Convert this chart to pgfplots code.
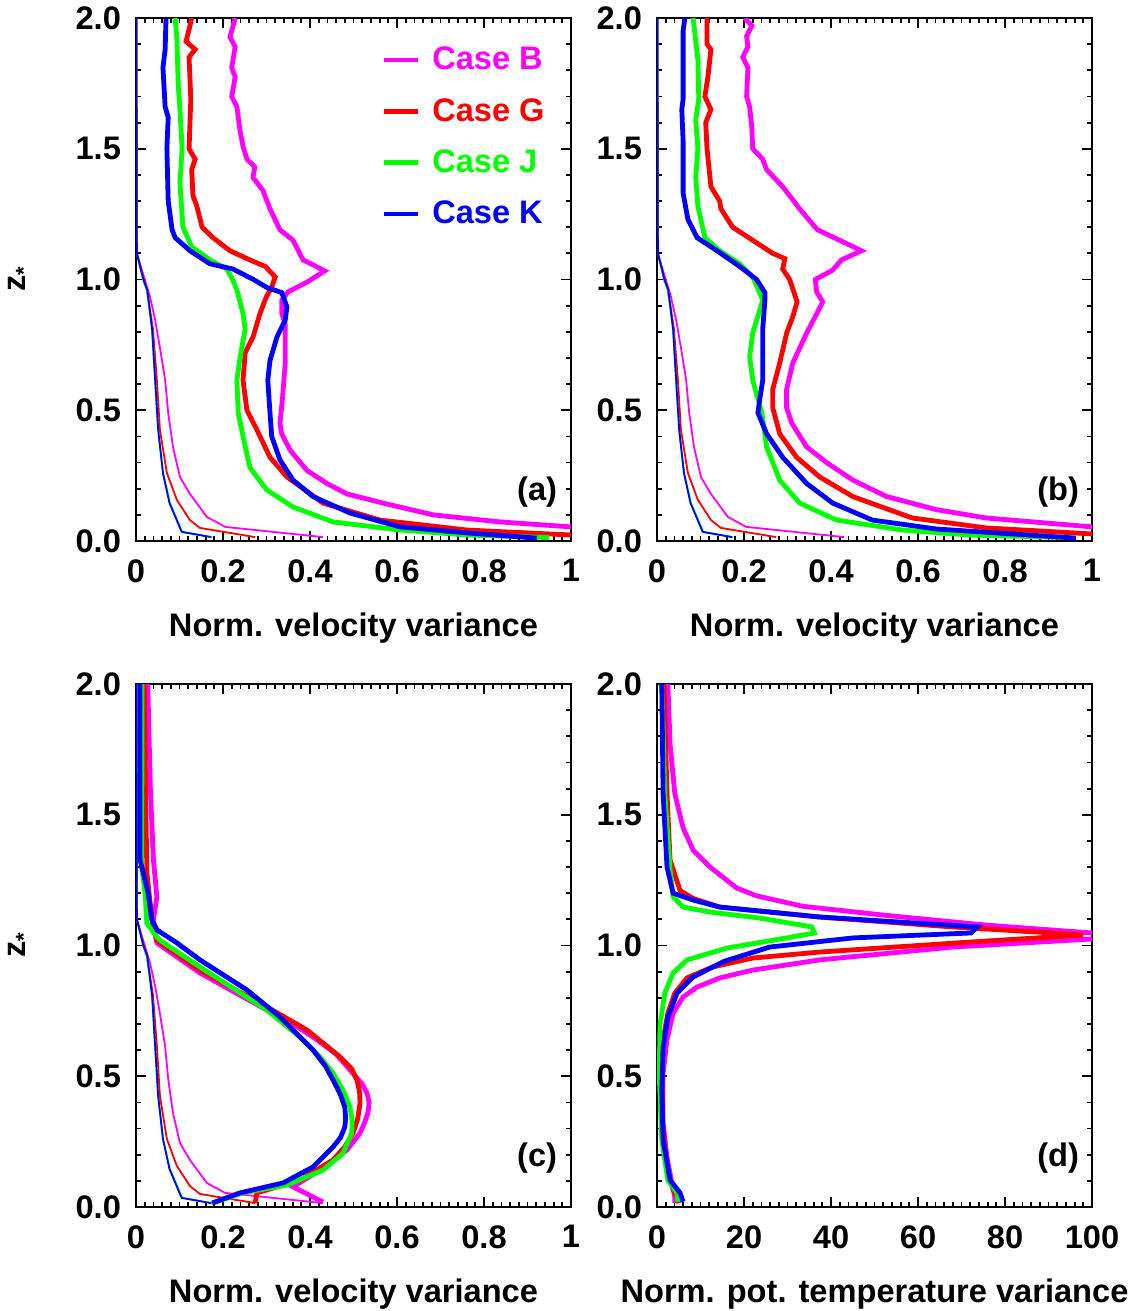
\documentclass[border=0pt]{standalone}
\usepackage{fontspec}
\setmainfont{Liberation Sans}
\usepackage{pgfplots}
\usepackage{pgfplotstable}
\pgfplotsset{compat=1.18}
\definecolor{cB}{RGB}{255,0,255}
\definecolor{cG}{RGB}{255,0,0}
\definecolor{cJ}{RGB}{0,255,0}
\definecolor{cK}{RGB}{0,0,255}

\pgfplotstableread{
x z
0.001 2.0
0.002 1.10
0.020 1.00
0.032 0.935
0.044 0.845
0.055 0.74
0.067 0.615
0.074 0.49
0.085 0.36
0.101 0.245
0.124 0.18
0.163 0.092
0.205 0.054
0.430 0.015
}\thinB
\pgfplotstableread{
x z
0.001 2.0
0.002 1.10
0.018 1.00
0.025 0.96
0.039 0.81
0.048 0.615
0.055 0.425
0.071 0.26
0.094 0.157
0.124 0.08
0.147 0.05
0.274 0.015
}\thinG
\pgfplotstableread{
x z
0.001 2.0
0.002 1.10
0.016 1.00
0.025 0.96
0.037 0.81
0.044 0.615
0.051 0.425
0.062 0.26
0.078 0.145
0.106 0.035
0.175 0.015
}\thinJ
\pgfplotstableread{
x z
0.001 2.0
0.002 1.10
0.017 1.00
0.026 0.96
0.037 0.81
0.044 0.615
0.051 0.425
0.062 0.26
0.077 0.145
0.105 0.035
0.172 0.015
}\thinK

\newcommand{\fs}{\fontsize{16.3}{19.6}\selectfont\bfseries}
\newcommand{\zlab}{z\raisebox{-0.3ex}{\fontsize{11}{12}\selectfont *}}

\pgfplotsset{
  panel/.style={
    scale only axis, width=217.5pt, height=261.5pt,
    anchor=south west,
    ymin=0, ymax=2, ytick={0,0.5,1,1.5,2}, minor y tick num=4,
    xtick pos=both, ytick pos=both, tick align=inside,
    major tick length=5pt, minor tick length=2.5pt,
    every tick/.append style={black, line width=0.9pt},
    axis line style={line width=1.3pt},
    tick label style={font=\fs},
    yticklabels={0.0,0.5,1.0,1.5,2.0},
    yticklabel style={xshift=-4pt},
    xticklabel style={yshift=-5.6pt},
    label style={font=\fs},
    xlabel style={at={(axis description cs:0.5,0)}, anchor=base, yshift=-47.5pt},
    ylabel style={at={(axis description cs:-0.267,0.5)}, anchor=center},
  },
  vel/.style={xmin=0, xmax=1, xtick={0,0.2,0.4,0.6,0.8,1}, xticklabels={0,0.2,0.4,0.6,0.8,1},
    minor x tick num=9, xlabel={Norm. velocity variance}},
  thickln/.style={line width=2.4pt},
  thinln/.style={line width=0.9pt},
}

\begin{document}
\begin{tikzpicture}
\useasboundingbox (0,0) rectangle (567.5pt,-655.5pt);

% ---------------- (a)
\begin{axis}[panel, vel, at={(68pt,-270.5pt)}, ylabel={\zlab},
  legend style={draw=none, fill=none, at={(0.564,0.952)}, anchor=north west,
    inner sep=0pt, outer sep=0pt, font=\fs, row sep=8.8pt, column sep=4pt},
  legend cell align=left]
\addplot[thinln, cB, forget plot] table[x=x,y=z]{\thinB};
\addplot[thinln, cG, forget plot] table[x=x,y=z]{\thinG};
\addplot[thinln, cJ, forget plot] table[x=x,y=z]{\thinJ};
\addplot[thinln, cK, forget plot] table[x=x,y=z]{\thinK};
\addplot[thickln, cB] coordinates {
(0.228,2.0)(0.216,1.927)(0.228,1.89)(0.220,1.81)(0.228,1.775)(0.220,1.70)(0.232,1.66)
(0.239,1.57)(0.246,1.51)(0.255,1.46)(0.273,1.43)(0.269,1.39)(0.292,1.34)(0.308,1.27)
(0.331,1.19)(0.361,1.15)(0.384,1.075)(0.434,1.033)(0.393,0.99)(0.349,0.952)(0.335,0.92)
(0.335,0.87)(0.343,0.83)(0.343,0.68)(0.337,0.55)(0.331,0.45)(0.335,0.41)(0.354,0.348)
(0.393,0.27)(0.439,0.22)(0.485,0.18)(0.568,0.145)(0.683,0.10)(0.837,0.073)(1.0,0.054)(1.2,0.045)};
\addlegendentry[text=cB]{Case B}
\addplot[thickln, cG] coordinates {
(0.128,2.0)(0.124,1.97)(0.115,1.91)(0.136,1.88)(0.122,1.85)(0.126,1.69)(0.122,1.50)
(0.136,1.46)(0.128,1.42)(0.131,1.32)(0.140,1.28)(0.152,1.20)(0.177,1.16)(0.216,1.11)
(0.255,1.08)(0.297,1.05)(0.320,1.01)(0.312,0.97)(0.300,0.935)(0.285,0.87)(0.269,0.78)
(0.251,0.72)(0.246,0.615)(0.255,0.50)(0.278,0.425)(0.308,0.32)(0.347,0.245)(0.430,0.145)
(0.561,0.08)(0.761,0.042)(1.0,0.023)(1.2,0.018)};
\addlegendentry[text=cG]{Case G}
\addplot[thickln, cJ] coordinates {
(0.090,2.0)(0.094,1.92)(0.097,1.75)(0.101,1.65)(0.106,1.50)(0.101,1.37)(0.108,1.20)
(0.128,1.125)(0.170,1.075)(0.209,1.04)(0.222,1.0)(0.232,0.96)(0.246,0.87)(0.251,0.81)
(0.239,0.70)(0.232,0.615)(0.235,0.49)(0.246,0.40)(0.262,0.28)(0.301,0.195)(0.361,0.13)
(0.453,0.073)(0.607,0.042)(0.761,0.023)(0.95,0.013)};
\addlegendentry[text=cJ]{Case J}
\addplot[thickln, cK] coordinates {
(0.069,2.0)(0.067,1.88)(0.062,1.81)(0.067,1.66)(0.074,1.62)(0.071,1.50)(0.074,1.30)
(0.083,1.19)(0.090,1.16)(0.124,1.11)(0.170,1.06)(0.223,1.04)(0.270,1.0)(0.300,0.97)
(0.335,0.95)(0.347,0.895)(0.343,0.845)(0.324,0.78)(0.308,0.69)(0.303,0.615)(0.308,0.49)
(0.312,0.40)(0.331,0.31)(0.361,0.233)(0.407,0.17)(0.492,0.107)(0.607,0.054)(0.761,0.031)(0.921,0.011)};
\addlegendentry[text=cK]{Case K}
\node[font=\fs] at (rel axis cs:0.922,0.094) {(a)};
\end{axis}

% ---------------- (b)
\begin{axis}[panel, vel, at={(328.5pt,-270.5pt)}]
\addplot[thinln, cB] table[x=x,y=z]{\thinB};
\addplot[thinln, cG] table[x=x,y=z]{\thinG};
\addplot[thinln, cJ] table[x=x,y=z]{\thinJ};
\addplot[thinln, cK] table[x=x,y=z]{\thinK};
\addplot[thickln, cB] coordinates {
(0.202,2.0)(0.218,1.97)(0.206,1.93)(0.209,1.89)(0.197,1.85)(0.209,1.81)(0.206,1.70)
(0.213,1.66)(0.218,1.58)(0.220,1.50)(0.243,1.46)(0.252,1.42)(0.289,1.355)(0.328,1.27)
(0.369,1.19)(0.420,1.15)(0.470,1.11)(0.424,1.075)(0.404,1.036)(0.364,1.0)(0.367,0.952)
(0.381,0.915)(0.369,0.875)(0.344,0.795)(0.312,0.68)(0.298,0.58)(0.298,0.51)(0.310,0.45)
(0.344,0.36)(0.390,0.30)(0.450,0.233)(0.528,0.17)(0.642,0.12)(0.757,0.088)(1.0,0.054)(1.2,0.045)};
\addplot[thickln, cG] coordinates {
(0.115,2.0)(0.115,1.90)(0.124,1.88)(0.117,1.775)(0.110,1.70)(0.124,1.65)(0.112,1.60)
(0.115,1.50)(0.124,1.355)(0.144,1.30)(0.147,1.27)(0.174,1.20)(0.220,1.15)(0.266,1.10)
(0.294,1.08)(0.289,1.04)(0.305,1.0)(0.322,0.915)(0.312,0.857)(0.298,0.795)(0.282,0.68)
(0.266,0.58)(0.266,0.51)(0.282,0.41)(0.321,0.32)(0.374,0.245)(0.450,0.17)(0.587,0.088)
(0.757,0.05)(1.0,0.027)(1.2,0.02)};
\addplot[thickln, cJ] coordinates {
(0.083,2.0)(0.094,1.84)(0.096,1.69)(0.089,1.61)(0.094,1.50)(0.089,1.39)(0.094,1.28)
(0.110,1.16)(0.144,1.11)(0.190,1.06)(0.220,1.01)(0.236,0.95)(0.243,0.92)(0.220,0.795)
(0.213,0.705)(0.220,0.615)(0.241,0.49)(0.252,0.36)(0.282,0.233)(0.328,0.145)(0.413,0.08)
(0.564,0.042)(0.718,0.023)(0.95,0.013)};
\addplot[thickln, cK] coordinates {
(0.064,2.0)(0.060,1.95)(0.060,1.69)(0.057,1.65)(0.060,1.53)(0.060,1.33)(0.071,1.23)
(0.092,1.16)(0.138,1.11)(0.190,1.05)(0.229,1.0)(0.248,0.95)(0.248,0.92)(0.243,0.81)
(0.243,0.615)(0.236,0.54)(0.232,0.49)(0.252,0.41)(0.289,0.32)(0.344,0.22)(0.404,0.145)
(0.495,0.08)(0.642,0.046)(0.963,0.011)};
\node[font=\fs] at (rel axis cs:0.922,0.094) {(b)};
\end{axis}

% ---------------- (c)
\begin{axis}[panel, vel, at={(68pt,-603.5pt)}, ylabel={\zlab}]
\addplot[thinln, cB] table[x=x,y=z]{\thinB};
\addplot[thinln, cG] table[x=x,y=z]{\thinG};
\addplot[thinln, cJ] table[x=x,y=z]{\thinJ};
\addplot[thinln, cK] table[x=x,y=z]{\thinK};
\addplot[thickln, cB] coordinates {
(0.027,2.0)(0.033,1.60)(0.040,1.33)(0.048,1.185)(0.040,1.10)(0.042,1.07)(0.048,1.01)
(0.147,0.895)(0.301,0.753)(0.370,0.69)(0.416,0.64)(0.460,0.585)(0.492,0.524)(0.520,0.47)
(0.531,0.436)(0.536,0.40)(0.533,0.36)(0.525,0.32)(0.515,0.283)(0.485,0.218)(0.423,0.141)
(0.361,0.077)(0.430,0.019)};
\addplot[thickln, cG] coordinates {
(0.019,2.0)(0.022,1.60)(0.025,1.28)(0.032,1.17)(0.040,1.06)(0.048,1.02)(0.147,0.906)
(0.301,0.765)(0.393,0.677)(0.469,0.574)(0.495,0.53)(0.508,0.486)(0.514,0.44)(0.515,0.398)
(0.510,0.34)(0.499,0.283)(0.480,0.23)(0.453,0.18)(0.377,0.103)(0.278,0.054)(0.274,0.015)};
\addplot[thickln, cJ] coordinates {
(0.014,2.0)(0.013,1.30)(0.021,1.20)(0.025,1.085)(0.040,1.05)(0.055,1.02)(0.147,0.918)
(0.301,0.753)(0.377,0.65)(0.420,0.58)(0.453,0.512)(0.478,0.44)(0.492,0.382)(0.497,0.33)
(0.496,0.283)(0.476,0.206)(0.430,0.141)(0.347,0.084)(0.246,0.054)(0.175,0.015)};
\addplot[thickln, cK] coordinates {
(0.009,2.0)(0.009,1.33)(0.028,1.20)(0.036,1.10)(0.048,1.06)(0.094,1.01)(0.147,0.945)
(0.255,0.83)(0.331,0.727)(0.407,0.60)(0.435,0.54)(0.453,0.486)(0.470,0.43)(0.480,0.382)
(0.482,0.34)(0.480,0.306)(0.470,0.265)(0.453,0.23)(0.407,0.153)(0.338,0.092)(0.239,0.054)(0.175,0.015)};
\node[font=\fs] at (rel axis cs:0.922,0.094) {(c)};
\end{axis}

% ---------------- (d)
\begin{axis}[panel, at={(328.5pt,-603.5pt)}, xmin=0, xmax=100, xtick={0,20,40,60,80,100},
  xticklabels={0,20,40,60,80,100},
  minor x tick num=9, xlabel={Norm. pot. temperature variance}]
\addplot[thickln, cB] coordinates {
(2.5,2.0)(3.0,1.77)(4.1,1.58)(6.0,1.45)(8.3,1.365)(12.2,1.30)(18.3,1.22)(22.9,1.19)
(33.5,1.15)(52.8,1.115)(75.7,1.078)(100,1.048)(106,1.037)(100,1.025)(67.9,0.994)(37.4,0.945)
(22.0,0.906)(14.4,0.876)(9.2,0.841)(6.0,0.803)(3.7,0.742)(2.3,0.64)(1.4,0.512)(1.4,0.32)
(2.3,0.19)(3.4,0.092)(4.1,0.038)(4.1,0.015)};
\addplot[thickln, cG] coordinates {
(1.6,2.0)(2.3,1.58)(3.0,1.327)(5.3,1.21)(8.3,1.18)(14.4,1.147)(37.4,1.109)(67.9,1.071)
(90.8,1.048)(98,1.04)(71.8,1.013)(37.4,0.975)(22.0,0.952)(12.8,0.918)(6.9,0.876)(4.1,0.818)
(2.5,0.742)(1.4,0.64)(1.2,0.5)(1.3,0.32)(2.3,0.15)(3.6,0.07)(4.6,0.038)(5.0,0.015)};
\addplot[thickln, cJ] coordinates {
(1.1,2.0)(1.8,1.58)(3.0,1.29)(3.7,1.186)(6.0,1.147)(12.2,1.128)(23.6,1.105)(35.6,1.071)
(36.2,1.048)(29.8,1.029)(16.0,0.99)(6.9,0.945)(3.7,0.895)(1.8,0.818)(0.7,0.70)(0.5,0.512)
(1.1,0.256)(2.5,0.103)(4.6,0.054)(4.8,0.02)};
\addplot[thickln, cK] coordinates {
(1.1,2.0)(1.4,1.58)(2.3,1.30)(3.7,1.20)(8.3,1.174)(14.4,1.147)(37.4,1.109)(73.6,1.071)
(72.2,1.048)(45.0,1.029)(25.9,0.994)(15.5,0.94)(8.3,0.88)(4.6,0.818)(2.5,0.727)(1.4,0.61)
(1.1,0.447)(1.4,0.256)(3.0,0.103)(5.3,0.054)(6.0,0.02)};
\node[font=\fs] at (rel axis cs:0.922,0.094) {(d)};
\end{axis}
\end{tikzpicture}
\end{document}
